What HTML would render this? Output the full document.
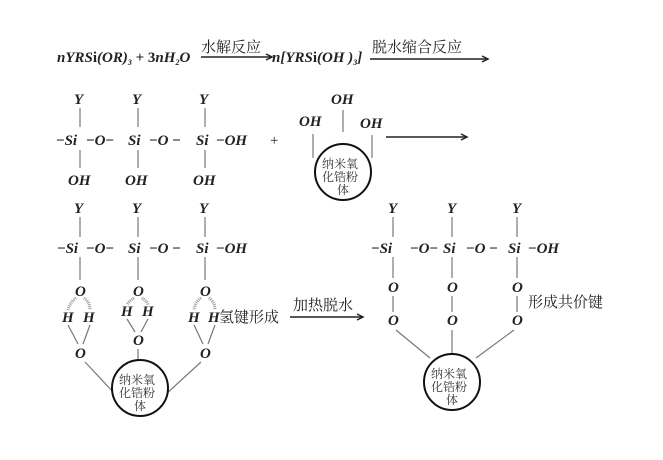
<!DOCTYPE html>
<html><head><meta charset="utf-8"><style>
html,body{margin:0;padding:0;background:#fff;}
svg{display:block;}
.m{font-family:"Liberation Serif","DejaVu Serif","Times New Roman",serif;font-style:italic;font-weight:bold;font-size:15px;fill:#222;}
.r{font-family:"Liberation Serif","DejaVu Serif",serif;font-size:15px;fill:#222;}
.c{font-family:"Noto Serif CJK SC","Noto Sans CJK SC",serif;font-size:15px;fill:#222;}
.s{font-family:"Noto Serif CJK SC","Noto Sans CJK SC",serif;font-size:12px;fill:#333;}
line,path{stroke:#777;stroke-width:1.2;fill:none;}
.k{stroke:#222;stroke-width:1.5;}
circle{stroke:#111;stroke-width:2;fill:#fff;}
.h{stroke:#999;stroke-width:3;stroke-dasharray:1 1;}
</style></head><body>
<svg width="663" height="460" viewBox="0 0 663 460" xmlns="http://www.w3.org/2000/svg">
<!-- Row 1 equation -->
<text x="57" y="62" class="m" font-size="13">nYRS<tspan font-style="normal">i</tspan>(OR)<tspan font-size="8" dy="3">3</tspan><tspan dy="-3" font-style="normal"> + 3</tspan>nH<tspan font-size="8" dy="3">2</tspan><tspan dy="-3">O</tspan></text>
<text x="201" y="52" class="c">水解反应</text>
<line x1="201" y1="57" x2="271" y2="57" class="k"/><path d="M266,54 L272,57 L266,60" class="k"/>
<text x="272" y="62" class="m" font-size="13">n[YRS<tspan font-style="normal">i</tspan>(OH )<tspan font-size="8" dy="3">3</tspan><tspan dy="-3">]</tspan></text>
<text x="372" y="52" class="c">脱水缩合反应</text>
<line x1="370" y1="59" x2="487" y2="59" class="k"/><path d="M482,56 L488,59 L482,62" class="k"/>

<!-- Row 2 -->
<g class="m">
<text x="74" y="104">Y</text><text x="132" y="104">Y</text><text x="199" y="104">Y</text>
<text x="56" y="145"><tspan font-style="normal">−</tspan>Si</text>
<text x="86" y="145"><tspan font-style="normal">−</tspan>O<tspan font-style="normal">−</tspan></text>
<text x="128" y="145">Si</text>
<text x="149" y="145"><tspan font-style="normal">−</tspan>O<tspan font-style="normal"> −</tspan></text>
<text x="196" y="145">Si</text>
<text x="216" y="145"><tspan font-style="normal">−</tspan>OH</text>
<text x="68" y="185">OH</text><text x="125" y="185">OH</text><text x="193" y="185">OH</text>
</g>
<line x1="80" y1="108" x2="80" y2="127"/><line x1="138" y1="108" x2="138" y2="127"/><line x1="205" y1="108" x2="205" y2="127"/>
<line x1="80" y1="150" x2="80" y2="168"/><line x1="138" y1="150" x2="138" y2="168"/><line x1="205" y1="150" x2="205" y2="168"/>
<text x="270" y="145" class="r" font-size="18">+</text>
<g class="m"><text x="331" y="104">OH</text><text x="299" y="126">OH</text><text x="360" y="128">OH</text></g>
<line x1="343" y1="110" x2="343" y2="132"/><line x1="313" y1="134" x2="313" y2="158"/><line x1="372" y1="135" x2="372" y2="158"/>
<circle cx="343" cy="172" r="28"/>
<text x="322" y="168" class="s">纳米氧</text><text x="322" y="181" class="s">化锆粉</text><text x="337" y="194" class="s">体</text>
<line x1="386" y1="137" x2="466" y2="137" class="k"/><path d="M461,134 L467,137 L461,140" class="k"/>

<!-- Row 3 left -->
<g class="m">
<text x="74" y="213">Y</text><text x="132" y="213">Y</text><text x="199" y="213">Y</text>
<text x="57" y="253"><tspan font-style="normal">−</tspan>Si</text>
<text x="86" y="253"><tspan font-style="normal">−</tspan>O<tspan font-style="normal">−</tspan></text>
<text x="128" y="253">Si</text>
<text x="149" y="253"><tspan font-style="normal">−</tspan>O<tspan font-style="normal"> −</tspan></text>
<text x="196" y="253">Si</text>
<text x="216" y="253"><tspan font-style="normal">−</tspan>OH</text>
<text x="75" y="296">O</text><text x="133" y="296">O</text><text x="200" y="296">O</text>
<text x="62" y="322">H</text><text x="83" y="322">H</text>
<text x="121" y="316">H</text><text x="142" y="316">H</text>
<text x="188" y="322">H</text><text x="208" y="322">H</text>
<text x="75" y="358">O</text><text x="133" y="345">O</text><text x="200" y="358">O</text>
</g>
<line x1="80" y1="217" x2="80" y2="237"/><line x1="138" y1="217" x2="138" y2="237"/><line x1="205" y1="217" x2="205" y2="237"/>
<line x1="80" y1="257" x2="80" y2="280"/><line x1="138" y1="257" x2="138" y2="280"/><line x1="205" y1="257" x2="205" y2="280"/>
<path d="M76,298 Q70,302 68,310" class="h"/><path d="M84,298 Q90,302 90,310" class="h"/>
<path d="M134,298 Q128,302 127,305" class="h"/><path d="M142,298 Q148,302 148,305" class="h"/>
<path d="M201,298 Q195,302 194,310" class="h"/><path d="M209,298 Q215,302 215,310" class="h"/>
<line x1="68" y1="325" x2="78" y2="344"/><line x1="90" y1="325" x2="83" y2="344"/>
<line x1="127" y1="319" x2="135" y2="332"/><line x1="148" y1="319" x2="141" y2="332"/>
<line x1="194" y1="325" x2="203" y2="344"/><line x1="215" y1="325" x2="208" y2="344"/>
<line x1="85" y1="362" x2="116" y2="395"/><line x1="138" y1="349" x2="138" y2="359"/><line x1="201" y1="362" x2="165" y2="395"/>
<circle cx="140" cy="388" r="28"/>
<text x="119" y="384" class="s">纳米氧</text><text x="119" y="397" class="s">化锆粉</text><text x="134" y="410" class="s">体</text>
<text x="219" y="322" class="c">氢键形成</text>
<text x="293" y="310" class="c">加热脱水</text>
<line x1="290" y1="317" x2="362" y2="317" class="k"/><path d="M357,314 L363,317 L357,320" class="k"/>

<!-- Row 3 right -->
<g class="m">
<text x="388" y="213">Y</text><text x="447" y="213">Y</text><text x="512" y="213">Y</text>
<text x="371" y="253"><tspan font-style="normal">−</tspan>Si</text>
<text x="410" y="253"><tspan font-style="normal">−</tspan>O<tspan font-style="normal">−</tspan></text>
<text x="443" y="253">Si</text>
<text x="466" y="253"><tspan font-style="normal">−</tspan>O<tspan font-style="normal"> −</tspan></text>
<text x="508" y="253">Si</text>
<text x="528" y="253"><tspan font-style="normal">−</tspan>OH</text>
<text x="388" y="292">O</text><text x="447" y="292">O</text><text x="512" y="292">O</text>
<text x="388" y="325">O</text><text x="447" y="325">O</text><text x="512" y="325">O</text>
</g>
<line x1="393" y1="217" x2="393" y2="237"/><line x1="452" y1="217" x2="452" y2="237"/><line x1="517" y1="217" x2="517" y2="237"/>
<line x1="393" y1="257" x2="393" y2="278"/><line x1="452" y1="257" x2="452" y2="278"/><line x1="517" y1="257" x2="517" y2="278"/>
<line x1="393" y1="296" x2="393" y2="312"/><line x1="452" y1="296" x2="452" y2="312"/><line x1="517" y1="296" x2="517" y2="312"/>
<line x1="396" y1="330" x2="430" y2="358"/><line x1="452" y1="330" x2="452" y2="354"/><line x1="514" y1="330" x2="476" y2="358"/>
<circle cx="452" cy="382" r="28"/>
<text x="431" y="378" class="s">纳米氧</text><text x="431" y="391" class="s">化锆粉</text><text x="446" y="404" class="s">体</text>
<text x="528" y="307" class="c">形成共价键</text>
</svg>
</body></html>
